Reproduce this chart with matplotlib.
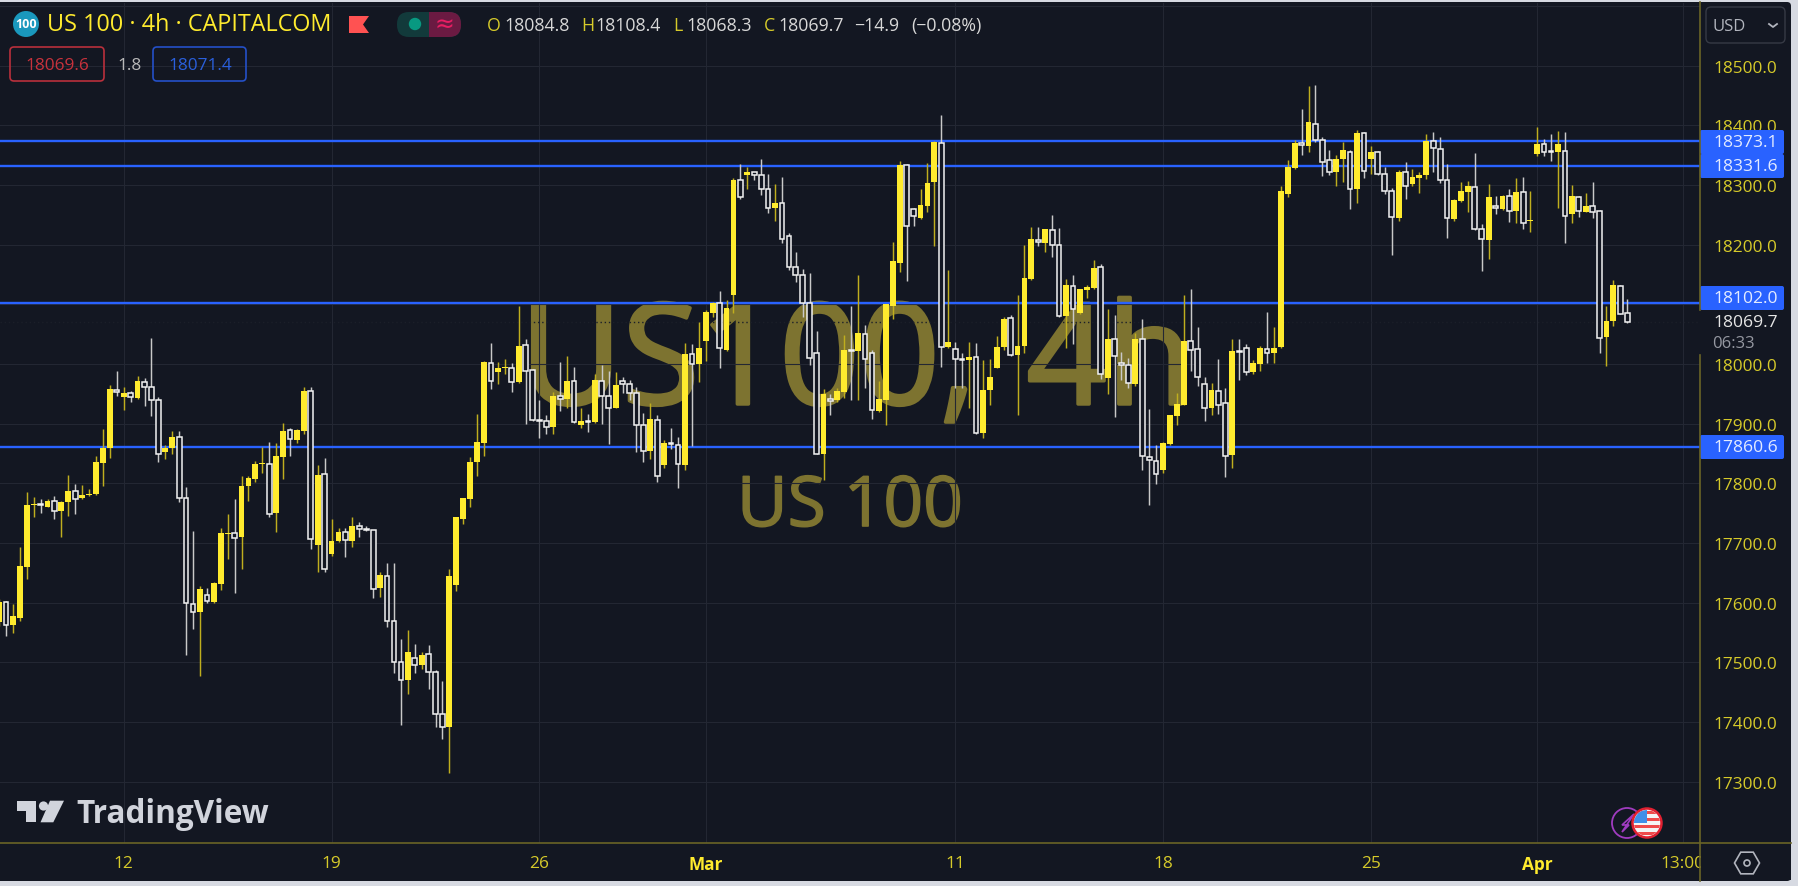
"""US 100 4h candlestick screenshot rebuilt with matplotlib."""
import matplotlib
matplotlib.use("Agg")
import matplotlib.pyplot as plt
import matplotlib.patheffects as pe
import numpy as np
from matplotlib.patches import Circle, FancyBboxPatch, Polygon, Rectangle, RegularPolygon

plt.rcParams["font.family"] = ["Open Sans", "DejaVu Sans"]

# candles, one bar per 4 hours
opens = [
    17567, 17602, 17563, 17575, 17659, 17764, 17764, 17760, 17770, 17753, 17768, 17788,
    17775, 17780, 17782, 17834, 17859, 17957, 17945, 17951, 17943, 17970, 17961, 17940,
    17853, 17859, 17877, 17776, 17597, 17585, 17613, 17601, 17631, 17715, 17717, 17710,
    17796, 17808, 17832, 17832, 17750, 17845, 17890, 17873, 17887, 17954, 17697, 17815,
    17681, 17703, 17719, 17704, 17728, 17722, 17721, 17624, 17645, 17569, 17501, 17470,
    17508, 17495, 17514, 17484, 17414, 17392, 17630, 17741, 17774, 17835, 17868, 18002,
    17986, 17993, 17994, 17970, 18032, 17990, 17906, 17905, 17894, 17946, 17941, 17971,
    17897, 17905, 17902, 17971, 17946, 17927, 17971, 17967, 17952, 17898, 17854, 17907,
    17830, 17867, 17865, 17830, 18017, 18000, 18038, 18085, 18102, 18024, 18115, 18308,
    18316, 18321, 18316, 18294, 18261, 18269, 18215, 18163, 18150, 18103, 18018, 17850,
    17942, 17939, 17953, 18023, 18021, 18050, 18019, 17922, 17939, 18098, 18170, 18333,
    18259, 18245, 18265, 18305, 18371, 18028, 18025, 18009, 18006, 18011, 17884, 17957,
    17994, 18028, 18077, 18015, 18030, 18143, 18207, 18203, 18225, 18200, 18081, 18131,
    18085, 18124, 18128, 18163, 17976, 18042, 18002, 17999, 17967, 18042, 17844, 17838,
    17823, 17866, 17913, 17932, 18038, 18025, 17967, 17926, 17955, 17934, 17847, 18021,
    18027, 17987, 18000, 18025, 18019, 18028, 18285, 18328, 18371, 18366, 18402, 18376,
    18342, 18321, 18343, 18356, 18294, 18387, 18344, 18356, 18319, 18290, 18245, 18321,
    18302, 18312, 18316, 18374, 18361, 18309, 18243, 18274, 18289, 18297, 18227, 18208,
    18264, 18260, 18281, 18256, 18288, 18240, 18352, 18368, 18356, 18355, 18357, 18251,
    18280, 18255, 18264, 18256, 18045, 18072, 18131, 18084.8,
]
highs = [
    17606, 17603, 17598, 17694, 17786, 17777, 17773, 17774, 17778, 17770, 17814, 17799,
    17798, 17790, 17846, 17891, 17964, 17989, 17961, 17954, 17980, 17977, 18043, 17945,
    17864, 17887, 17888, 17794, 17720, 17628, 17625, 17634, 17725, 17748, 17773, 17813,
    17813, 17837, 17861, 17869, 17867, 17901, 17892, 17891, 17962, 17962, 17831, 17842,
    17740, 17725, 17725, 17744, 17736, 17729, 17721, 17652, 17666, 17666, 17539, 17554,
    17531, 17518, 17529, 17488, 17468, 17656, 17744, 17776, 17844, 17917, 18005, 18035,
    18003, 18008, 18002, 18097, 18042, 17991, 17940, 17914, 17953, 18004, 18013, 17995,
    17926, 17917, 17983, 17998, 17989, 17987, 17978, 17974, 17961, 17918, 17934, 17914,
    17872, 17893, 17878, 18035, 18033, 18070, 18090, 18104, 18123, 18107, 18312, 18335,
    18331, 18322, 18343, 18318, 18301, 18313, 18220, 18187, 18160, 18153, 18055, 17958,
    17949, 17960, 18049, 18098, 18149, 18066, 18023, 17971, 18101, 18205, 18340, 18336,
    18261, 18293, 18337, 18374, 18418, 18158, 18037, 18018, 18037, 18035, 18006, 18008,
    18047, 18079, 18082, 18116, 18199, 18230, 18230, 18227, 18249, 18228, 18143, 18149,
    18126, 18133, 18174, 18168, 18093, 18082, 18020, 18010, 18052, 18076, 17924, 17864,
    17869, 17915, 17952, 18116, 18125, 18062, 17979, 17969, 18008, 17959, 18042, 18042,
    18034, 18006, 18031, 18087, 18062, 18298, 18342, 18375, 18428, 18466, 18468, 18380,
    18358, 18350, 18372, 18358, 18392, 18389, 18366, 18357, 18331, 18295, 18325, 18338,
    18327, 18321, 18385, 18389, 18381, 18335, 18276, 18305, 18307, 18353, 18235, 18302,
    18282, 18283, 18293, 18312, 18314, 18290, 18397, 18377, 18386, 18390, 18389, 18300,
    18282, 18286, 18305, 18258, 18097, 18141, 18132, 18108.4,
]
lows = [
    17561, 17545, 17549, 17570, 17639, 17743, 17750, 17760, 17740, 17710, 17745, 17749,
    17774, 17779, 17781, 17796, 17842, 17947, 17923, 17937, 17942, 17929, 17913, 17835,
    17841, 17850, 17769, 17512, 17556, 17478, 17599, 17600, 17621, 17673, 17617, 17656,
    17771, 17802, 17817, 17744, 17718, 17808, 17846, 17868, 17883, 17690, 17652, 17652,
    17679, 17701, 17677, 17693, 17710, 17720, 17608, 17609, 17560, 17483, 17395, 17447,
    17482, 17489, 17456, 17391, 17372, 17314, 17620, 17732, 17760, 17812, 17846, 17958,
    17966, 17984, 17953, 17969, 17900, 17905, 17876, 17883, 17883, 17921, 17926, 17901,
    17893, 17886, 17901, 17899, 17866, 17926, 17951, 17939, 17852, 17836, 17840, 17803,
    17825, 17858, 17792, 17823, 17863, 17970, 18005, 18078, 17993, 18022, 18085, 18277,
    18294, 18309, 18284, 18253, 18240, 18203, 18157, 18137, 18078, 17998, 17849, 17805,
    17915, 17936, 17943, 17940, 17939, 17959, 17908, 17919, 17897, 18076, 18154, 18139,
    18231, 18243, 18255, 18197, 17995, 18027, 17960, 17960, 17926, 17883, 17876, 17932,
    17993, 18023, 18014, 17914, 18019, 18140, 18197, 18187, 18179, 18078, 18026, 18034,
    18084, 18111, 18125, 17975, 17950, 17911, 17974, 17959, 17963, 17822, 17763, 17799,
    17818, 17865, 17897, 17931, 17988, 17963, 17905, 17914, 17917, 17811, 17825, 17973,
    17981, 17984, 17988, 18001, 18001, 18027, 18280, 18327, 18351, 18355, 18372, 18315,
    18316, 18299, 18305, 18260, 18270, 18312, 18318, 18317, 18285, 18182, 18240, 18276,
    18299, 18286, 18310, 18321, 18303, 18212, 18240, 18271, 18254, 18225, 18156, 18176,
    18252, 18258, 18238, 18237, 18226, 18222, 18349, 18348, 18341, 18262, 18203, 18237,
    18247, 18254, 18245, 18019, 17997, 18064, 18083, 18068.3,
]
closes = [
    17602, 17563, 17577, 17661, 17764, 17765, 17763, 17771, 17753, 17769, 17788, 17774,
    17780, 17782, 17835, 17859, 17958, 17953, 17951, 17944, 17971, 17961, 17940, 17849,
    17860, 17877, 17775, 17599, 17585, 17623, 17603, 17633, 17716, 17717, 17708, 17796,
    17809, 17833, 17833, 17749, 17846, 17887, 17874, 17890, 17954, 17707, 17814, 17656,
    17703, 17719, 17705, 17728, 17723, 17721, 17623, 17646, 17569, 17501, 17470, 17517,
    17496, 17513, 17484, 17414, 17392, 17644, 17743, 17775, 17836, 17869, 18003, 17971,
    17993, 17995, 17970, 18031, 17988, 17907, 17905, 17894, 17946, 17941, 17971, 17902,
    17904, 17902, 17974, 17946, 17927, 17964, 17967, 17952, 17898, 17854, 17908, 17813,
    17868, 17866, 17832, 18017, 18000, 18027, 18087, 18103, 18027, 18094, 18308, 18280,
    18321, 18316, 18294, 18261, 18269, 18210, 18163, 18150, 18103, 18010, 17850, 17950,
    17938, 17954, 18023, 18022, 18052, 18008, 17923, 17941, 18100, 18172, 18333, 18232,
    18248, 18266, 18304, 18372, 18028, 18037, 18009, 18006, 18012, 17885, 17957, 17979,
    18029, 18075, 18015, 18031, 18144, 18209, 18204, 18226, 18200, 18081, 18133, 18092,
    18125, 18129, 18161, 17984, 18042, 18013, 17998, 17969, 18042, 17846, 17839, 17815,
    17868, 17914, 17933, 18039, 18023, 17978, 17927, 17956, 17932, 17846, 18021, 18020,
    17987, 18001, 18026, 18018, 18027, 18290, 18331, 18371, 18367, 18406, 18376, 18339,
    18322, 18344, 18358, 18294, 18387, 18323, 18356, 18319, 18290, 18246, 18321, 18298,
    18313, 18317, 18373, 18362, 18308, 18245, 18275, 18290, 18298, 18227, 18209, 18280,
    18261, 18282, 18256, 18289, 18237, 18241, 18369, 18356, 18355, 18369, 18248, 18282,
    18257, 18264, 18255, 18043, 18072, 18132, 18084, 18069.7,
]

price_ticks = [18500, 18400, 18300, 18200, 18000, 17900, 17800, 17700, 17600, 17500, 17400, 17300]
hidden_ticks = [18600, 18100]  # gridline only, label sits under the blue box
time_ticks = [18, 48, 78, 102, 138, 168, 198, 222, 243]
time_labels = ["12", "19", "26", "Mar", "11", "18", "25", "Apr", "13:00"]
levels = [18373.1, 18331.6, 18102.0, 17860.6]
level_labels = ["18373.1", "18331.6", "18102.0", "17860.6"]

BG = "#131722"
YEL = "#ffeb2e"
YEL_WICK = "#bfae1e"
WHITE = "#f2f2f2"
WHITE_WICK = "#c9c9c9"
GRID = "#232733"
BLUE = "#2962ff"
AXIS_LINE = "#6a6426"
TICK_YEL = "#d6ca2a"

W, H = 1798, 887
L, R, T, B = 0, 1700, 4, 844


def px_ax(fig, zorder):
    a = fig.add_axes([0, 0, 1, 1], zorder=zorder)
    a.set_xlim(0, W)
    a.set_ylim(H, 0)
    a.axis("off")
    return a


fig = plt.figure(figsize=(W / 100, H / 100), dpi=100, facecolor="#d7dae2")

# panel and watermark sit under the chart
under = px_ax(fig, 0)
under.add_patch(FancyBboxPatch((3, 3), 1788, 879, boxstyle="round,pad=0,rounding_size=4", fc=BG, ec="none"))
under.add_patch(Rectangle((0, 3), 10, 879, fc=BG, ec="none"))
wm = under.text(520, 405, "US100,\u200a 4h", fontsize=101, color="#7d7330", va="baseline", ha="left")
wm.set_path_effects([pe.withStroke(linewidth=2.5, foreground="#7d7330")])
wm2 = under.text(737, 527, "US 100", fontsize=50, color="#7d7330", va="baseline", ha="left")
wm2.set_path_effects([pe.withStroke(linewidth=1.2, foreground="#7d7330")])

ax = fig.add_axes([L / W, 1 - B / H, (R - L) / W, (B - T) / H], zorder=1, facecolor="none")
x = np.arange(len(opens))
ax.set_xlim(0.144, 245.5)
ax.set_ylim(17197.3, 18605)

for i in x:
    up = closes[i] >= opens[i]
    ax.vlines(i, lows[i], highs[i], color=YEL_WICK if up else WHITE_WICK, lw=1.05, zorder=3)
    low_b, high_b = min(opens[i], closes[i]), max(opens[i], closes[i])
    if up:
        ax.bar(i, max(high_b - low_b, 2), bottom=low_b, width=0.84, color=YEL, lw=0, zorder=4)
    else:
        ax.bar(i, max(high_b - low_b, 2), bottom=low_b, width=0.68, facecolor=BG, edgecolor=WHITE, lw=1.1, zorder=4)

for lv in levels:
    ax.axhline(lv, color=BLUE, lw=1.7, zorder=2)
ax.axhline(closes[-1], color="#1b1f29", lw=1.0, ls=(0, (1, 2)), zorder=2)

ax.set_yticks(price_ticks + hidden_ticks)
ax.set_yticklabels([f"{p:.1f}" for p in price_ticks] + [""] * len(hidden_ticks))
ax.yaxis.tick_right()
ax.set_xticks(time_ticks)
ax.set_xticklabels(time_labels)
ax.grid(True, color=GRID, lw=0.8, zorder=0)
ax.set_axisbelow(True)
ax.tick_params(axis="y", length=0, pad=9.4, labelsize=12.4, labelcolor=TICK_YEL)
ax.tick_params(axis="x", length=0, pad=8.6, labelsize=12.4, labelcolor=TICK_YEL)
for lab in ax.get_xticklabels():
    if lab.get_text() in ("Mar", "Apr"):
        lab.set_fontweight("bold")
        lab.set_color(YEL)
for s in ax.spines.values():
    s.set_visible(False)

# everything around the chart is screen furniture in pixel coordinates
top = px_ax(fig, 2)
top.add_patch(Rectangle((1700.5, 844.5), 90, 37, fc=BG, ec="none"))
top.add_patch(Rectangle((1701, 311), 89, 45, fc=BG, ec="none"))
top.plot([0, 1791], [844, 844], color=AXIS_LINE, lw=1.2)
top.plot([1700, 1700], [3, 311], color=AXIS_LINE, lw=1.2)
top.plot([1700, 1700], [356, 882], color=AXIS_LINE, lw=1.2)

# price labels on the axis
for y0 in [131, 155, 287, 436]:
    top.add_patch(FancyBboxPatch((1700, y0), 84, 24, boxstyle="round,pad=0,rounding_size=2", fc=BLUE, ec="none"))
for lab, yc in zip(level_labels, [143, 167, 299, 448]):
    top.text(1745.5, yc, lab, color="#e3ebff", fontsize=12.6, ha="center", va="center")
top.text(1745.5, 323, "18069.7", color="#e6e6e6", fontsize=12.6, ha="center", va="center")
top.text(1712, 344, "06:33", color="#9598a1", fontsize=12, ha="left", va="center")

top.add_patch(FancyBboxPatch((1706, 8), 79, 36, boxstyle="round,pad=0,rounding_size=5", fc="none", ec="#363a45", lw=1))
top.text(1712, 27, "USD", color="#b2b5be", fontsize=12, ha="left", va="center")
top.plot([1769, 1773, 1777], [25, 28, 25], color="#b2b5be", lw=1.3)

# settings icon
top.add_patch(RegularPolygon((1747, 864), 6, radius=12.5, orientation=np.pi / 6, fc="none", ec="#b2b5be", lw=1.2))
top.add_patch(Circle((1747, 864), 3, fc="none", ec="#b2b5be", lw=1.2))

# header
top.add_patch(Circle((26, 25), 13, fc="#1a98bd", ec="none"))
top.text(26, 25, "100", color="white", fontsize=9, fontweight="bold", ha="center", va="center")
top.text(47, 25, "US 100 · 4h · CAPITALCOM", color=YEL, fontsize=16.8, ha="left", va="center")
top.add_patch(Polygon([(349, 17), (369, 17), (363, 25.5), (369, 34), (349, 34)], fc="#ff5252", ec="none"))
top.add_patch(FancyBboxPatch((397, 13), 64, 25, boxstyle="round,pad=0,rounding_size=12", fc="#123a3b", ec="none"))
pill_right = FancyBboxPatch((397, 13), 64, 25, boxstyle="round,pad=0,rounding_size=12", fc="#6b1a42", ec="none")
top.add_patch(pill_right)
pill_right.set_clip_path(Rectangle((429, 0), 40, 50, transform=top.transData))
top.add_patch(Circle((415, 25), 6.2, fc="#089981", ec="none"))
top.text(444, 25, "≈", color="#e91e63", fontsize=17, ha="center", va="center", family="DejaVu Sans")

for s, xp in zip(["O", "H", "L", "C"], [487, 581, 673, 764]):
    top.text(xp, 26, s, color=TICK_YEL, fontsize=12.8, ha="left", va="center")
for s, xp in zip(["18084.8", "18108.4", "18068.3", "18069.7", "−14.9", "(−0.08%)"], [504, 595, 686, 778, 854, 911]):
    top.text(xp, 26, s, color="#d8d8d8", fontsize=12.8, ha="left", va="center")

# spread boxes
top.add_patch(FancyBboxPatch((10, 48), 94, 34, boxstyle="round,pad=0,rounding_size=4", fc="none", ec="#b9303c", lw=1.2))
top.text(57, 66, "18069.6", color="#c8323c", fontsize=12.4, ha="center", va="center")
top.text(130, 66, "1.8", color="#b8b8b8", fontsize=12.4, ha="center", va="center")
top.add_patch(FancyBboxPatch((153, 48), 93, 34, boxstyle="round,pad=0,rounding_size=4", fc="none", ec="#2450c8", lw=1.2))
top.text(200, 66, "18071.4", color="#2a5fdc", fontsize=12.4, ha="center", va="center")

# TradingView logo
LOGO = "#d1d4dc"
top.add_patch(Polygon([(16.7, 801.7), (36, 801.7), (36, 823.3), (26, 823.3), (26, 811.7), (16.7, 811.7)], fc=LOGO, ec="none"))
top.add_patch(Circle((43.5, 807), 4.6, fc=LOGO, ec="none"))
top.add_patch(Polygon([(50, 801.7), (64, 801.7), (53.3, 823.3), (40.5, 823.3)], fc=LOGO, ec="none"))
top.text(76, 823.5, "TradingView", color=LOGO, fontsize=22.7, fontweight="bold", ha="left", va="baseline")

# event markers
top.add_patch(Circle((1627, 824), 15, fc=BG, ec="#a03cc0", lw=1.3))
top.add_patch(Polygon([(1634, 815), (1622, 826), (1629, 826), (1622, 833)], fc="none", ec="#a03cc0", lw=1.2))
top.add_patch(Circle((1647, 824), 14.5, fc="#f4f4f4", ec="#e02030", lw=1.8))
clip = Circle((1647, 824), 13, transform=top.transData)
for yy in [812, 819, 826, 833]:
    st = Rectangle((1630, yy), 34, 3.5, fc="#ef4a4a", ec="none")
    top.add_patch(st)
    st.set_clip_path(clip)
canton = Rectangle((1632, 811), 15, 13, fc="#3f8fe8", ec="none")
top.add_patch(canton)
canton.set_clip_path(clip)

fig.savefig("out.png", dpi=100, facecolor=fig.get_facecolor())
